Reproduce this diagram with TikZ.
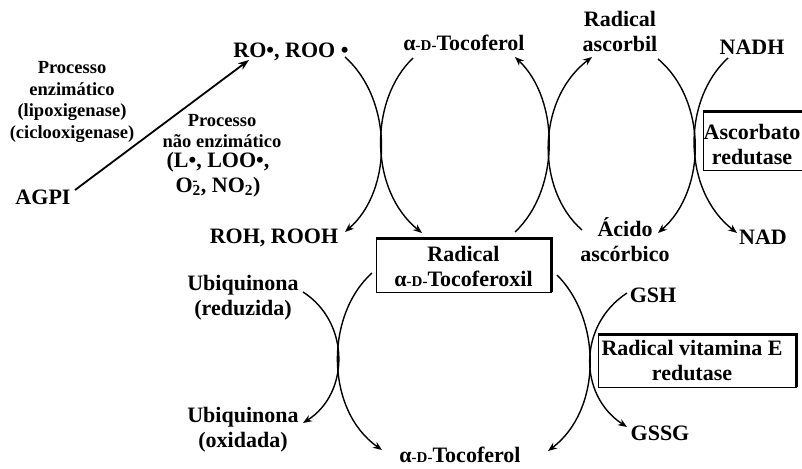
\documentclass[tikz,border=0pt]{standalone}
\usepackage{fontspec}
\setmainfont{Liberation Serif}
\usetikzlibrary{arrows.meta}
\newcommand{\alphaD}{α{\fontsize{15}{15}\selectfont -D-}}
\begin{document}
\begin{tikzpicture}[x=1pt,y=-1pt,
  lbl/.style={font=\bfseries\fontsize{22}{25}\selectfont, inner sep=0pt, align=center},
  sml/.style={font=\bfseries\fontsize{18.5}{21.7}\selectfont, inner sep=0pt, align=center},
  curve/.style={line width=1.4pt},
  arr/.style={curve,-{Stealth[length=9pt,width=7pt]}},
  boxframe/.style={draw, line width=0.9pt, fill=white, inner sep=0pt},
  shadow/.style={line width=3.5pt}
]
\clip (0,0) rectangle (802,468);
\fill[white] (0,0) rectangle (802,468);

% boxes
\node[boxframe, minimum width=175, minimum height=53] (radbox) at (463.5,265.5) {};
\draw[shadow] (radbox.north west) -- (radbox.north east) -- (radbox.south east);
\node[lbl] (radtxt) at (463.5,266) {Radical\\\alphaD Tocoferoxil};

\node[boxframe, minimum width=130, minimum height=58] (ascbox) at (768,141) {};
\draw[shadow] (ascbox.north west) -- (ascbox.north east);
\node[lbl] (asctxt) at (752,145) {Ascorbato\\redutase};

\node[boxframe, minimum width=198, minimum height=52] (vitbox) at (697,361) {};
\draw[shadow] (vitbox.north west) -- (vitbox.north east) -- (vitbox.south east);
\node[lbl] (vittxt) at (692,360) {Radical vitamina E\\redutase};

% labels
\node[sml] (enz) at (72,102) {Processo\\enzimático\\(lipoxigenase)\\(ciclooxigenase)};
\node[lbl] (agpi) at (43,197) {AGPI};
\node[sml] (nenz) at (222,131) {Processo\\não enzimático};
\node[lbl] (nenzb) at (218,175) {(L•, LOO•,\\O\rlap{\textsuperscript{-}}\textsubscript{2}, NO\textsubscript{2})};
\node[lbl] (ro) at (291,52) {RO•, ROO •};
\node[lbl] (toc1) at (464,43) {\alphaD Tocoferol};
\node[lbl] (ascorbil) at (620,31) {Radical\\ascorbil};
\node[lbl] (nadh) at (752,47) {NADH};
\node[lbl] (roh) at (274,238) {ROH, ROOH};
\node[lbl] (acido) at (625,240) {Ácido\\ascórbico};
\node[lbl] (nad) at (763,237) {NAD};
\node[lbl] (ubired) at (243,298) {Ubiquinona\\(reduzida)};
\node[lbl] (ubiox) at (243,430) {Ubiquinona\\(oxidada)};
\node[lbl] (toc2) at (460,455) {\alphaD Tocoferol};
\node[lbl] (gsh) at (653,295) {GSH};
\node[lbl] (gssg) at (660,433) {GSSG};

% connector endpoints
\coordinate (agpiout) at (75,190);
\coordinate (roin) at (249,60);
\coordinate (a1) at (345,57);   \coordinate (a2) at (345,232);
\coordinate (b1) at (413,58);   \coordinate (b2) at (422,233);
\coordinate (c1) at (515,232);  \coordinate (c2) at (515,57);
\coordinate (d1) at (582,230);  \coordinate (d2) at (592,57);
\coordinate (e1) at (658,59);   \coordinate (e2) at (658,233);
\coordinate (f1) at (728,58);   \coordinate (f2) at (737,233);
\coordinate (g1) at (303,292);  \coordinate (g2) at (303,423);
\coordinate (h1) at (372,273);  \coordinate (h2) at (382,450);
\coordinate (i1) at (557,275);  \coordinate (i2) at (548,451);
\coordinate (j1) at (627,293);  \coordinate (j2) at (627,427);

\draw[line width=1.8pt,-{Stealth[length=11pt,width=8pt]}] (agpiout) -- (roin);

\draw[arr] (a1) .. controls (393,100) and (393,190) .. (a2);
\draw[arr] (b1) .. controls (369,100) and (369,190) .. (b2);
\draw[arr] (c1) .. controls (560,190) and (560,100) .. (c2);
\draw[arr] (d1) .. controls (536,190) and (536,100) .. (d2);
\draw[arr] (e1) .. controls (707,100) and (707,190) .. (e2);
\draw[arr] (f1) .. controls (682,100) and (682,190) .. (f2);
\draw[arr] (g1) .. controls (350,322) and (350,393) .. (g2);
\draw[arr] (h1) .. controls (325,315) and (325,410) .. (h2);
\draw[arr] (i1) .. controls (602,320) and (602,410) .. (i2);
\draw[arr] (j1) .. controls (578,325) and (578,395) .. (j2);
\end{tikzpicture}
\end{document}
